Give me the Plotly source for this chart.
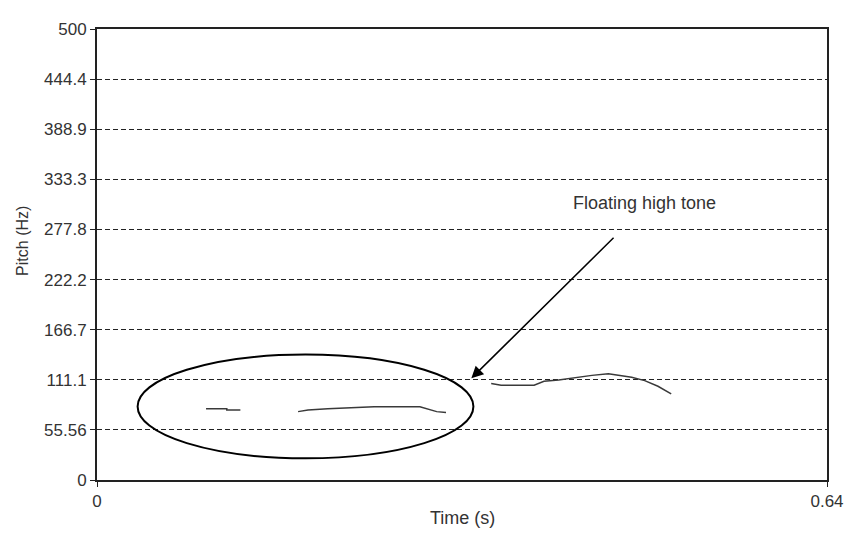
import plotly.graph_objects as go

# ---- data ----
seg1_t = [0.0956, 0.1138, 0.1138, 0.1257]
seg1_f = [79.1, 79.1, 77.7, 77.7]

seg2_t = [0.1763, 0.1850, 0.2023, 0.2429, 0.2831, 0.2906, 0.2978, 0.3060]
seg2_f = [75.8, 77.7, 79.1, 81.3, 81.3, 78.4, 75.8, 74.7]

seg3_t = [0.3456, 0.3543, 0.3832, 0.3919, 0.4047, 0.4194, 0.4339, 0.4483,
          0.4570, 0.4687, 0.4802, 0.4918, 0.5034]
seg3_f = [106.9, 105.0, 105.0, 109.4, 110.8, 113.8, 116.0, 117.8,
          116.0, 113.8, 110.2, 103.9, 95.5]

y_tick_vals = [0, 55.56, 111.1, 166.7, 222.2, 277.8, 333.3, 388.9, 444.4, 500]
y_tick_text = ["0", "55.56", "111.1", "166.7", "222.2", "277.8", "333.3", "388.9", "444.4", "500"]
x_tick_vals = [0, 0.64]
x_tick_text = ["0", "0.64"]

ellipse_t = [0.0356, 0.330]
ellipse_f = [24.0, 139.0]
arrow_tail = (0.4542, 270.2)
arrow_tip = (0.3282, 112.7)
label_pos = (0.480, 307.4)
label_text = "Floating high tone"

FONT = "Liberation Sans"
TXT = "#333333"

fig = go.Figure()
for t, f in [(seg1_t, seg1_f), (seg2_t, seg2_f), (seg3_t, seg3_f)]:
    fig.add_trace(go.Scatter(x=t, y=f, mode="lines",
                             line=dict(color="#3a3a3a", width=1.5),
                             showlegend=False, hoverinfo="skip"))

fig.add_shape(type="circle", xref="x", yref="y",
              x0=ellipse_t[0], x1=ellipse_t[1], y0=ellipse_f[0], y1=ellipse_f[1],
              line=dict(color="black", width=2))

fig.add_annotation(x=arrow_tip[0], y=arrow_tip[1], ax=arrow_tail[0], ay=arrow_tail[1],
                   xref="x", yref="y", axref="x", ayref="y", text="",
                   showarrow=True, arrowhead=2, arrowsize=1.6, arrowwidth=1.5,
                   arrowcolor="black")
fig.add_annotation(x=label_pos[0], y=label_pos[1], xref="x", yref="y",
                   text=label_text, showarrow=False,
                   font=dict(family=FONT, size=18, color=TXT))

fig.add_annotation(x=-0.1018, y=0.5295, xref="paper", yref="paper", text="Pitch (Hz)",
                   textangle=-90, showarrow=False, xanchor="center", yanchor="middle",
                   font=dict(family=FONT, size=16, color=TXT))
fig.add_annotation(x=0.5, y=-0.0853, xref="paper", yref="paper", text="Time (s)",
                   showarrow=False, xanchor="center", yanchor="middle",
                   font=dict(family=FONT, size=18, color=TXT))

fig.update_xaxes(range=[0, 0.64], tickvals=x_tick_vals, ticktext=x_tick_text,
                 showgrid=False, zeroline=False, showline=True, mirror=True,
                 linecolor="#222222", linewidth=2, ticks="outside", ticklen=5,
                 tickcolor="#222222", tickfont=dict(family=FONT, size=17, color=TXT))
fig.update_yaxes(range=[0, 500], tickvals=y_tick_vals, ticktext=y_tick_text,
                 showgrid=True, gridcolor="#222222", gridwidth=1, griddash="5px,3px",
                 zeroline=False, showline=True, mirror=True,
                 linecolor="#222222", linewidth=2, ticks="outside", ticklen=5,
                 tickcolor="#222222", tickfont=dict(family=FONT, size=17, color=TXT))

# the page body has an 8px margin, so the figure is sized to fit the 856x533 window
fig.update_layout(width=848, height=525,
                  margin=dict(l=89, r=22, t=15, b=53),
                  paper_bgcolor="white", plot_bgcolor="white")

fig.write_html("out.html")
